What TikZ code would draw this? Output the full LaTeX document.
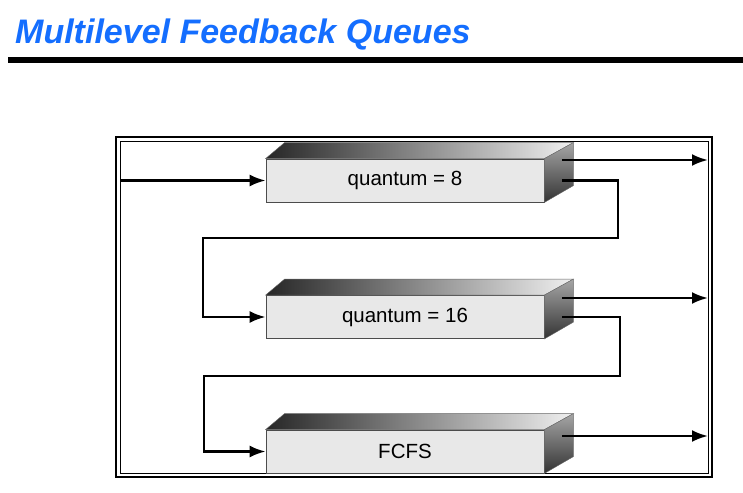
\documentclass[tikz,border=0pt]{standalone}
\usepackage{fontspec}
\setmainfont{Liberation Sans}
\usetikzlibrary{positioning,arrows.meta}
\definecolor{titleblue}{RGB}{20,110,255}

\begin{document}
\begin{tikzpicture}[x=1pt, y=-1pt,
  queue/.style={draw=black!70, line width=0.8pt, fill=black!9, minimum width=278pt,
    minimum height=43pt, inner sep=0pt, font=\fontsize{20.5}{24}\selectfont},
  flow/.style={line width=2.5pt, -{Latex[length=16pt,width=12pt]}}]
  \useasboundingbox (0,0) rectangle (743,492);
  % heading and rule
  \node[anchor=base west, inner sep=0pt, text=titleblue,
    font=\fontsize{34}{38}\selectfont\bfseries\itshape] (title) at (15,44) {Multilevel Feedback Queues};
  \fill (8,57) rectangle (743,63);
  % double frame
  \draw[line width=2pt] (116,137) rectangle (712,477);
  \draw[line width=1pt] (120,141) rectangle (708,473);
  % the three queues
  \node[queue] (q8) at (405,180.5) {quantum = 8};
  \node[queue] (q16) at (405,317) {quantum = 16};
  \node[queue] (fcfs) at (405,451.5) {FCFS};
  \foreach \q in {q8,q16,fcfs} {
    \shade[left color=black!85, right color=black!6, draw=black!60]
      (\q.north west) -- ++(19,-16) -- ([shift={(29,-16)}]\q.north east) -- (\q.north east) -- cycle;
    \shade[top color=black!35, bottom color=black!80, draw=black!60]
      (\q.north east) -- ++(29,-16) -- ++(0,43) -- (\q.south east) -- cycle;
  }
  % free ends
  \coordinate (entry) at (120,180.5);
  \coordinate (out8) at (708,160);
  \coordinate (out16) at (708,298);
  \coordinate (outfcfs) at (708,436);
  \coordinate (turn8) at (618,238);
  \coordinate (back8) at (203,238);
  \coordinate (turn16) at (620,376);
  \coordinate (back16) at (204,376);
  % connectors
  \draw[flow] (entry) -- (q8.west);
  \draw[flow] ([xshift=18pt,yshift=20.5pt]q8.east) -- (out8);
  \draw[flow] ([xshift=18pt]q8.east) -| (turn8) -- (back8) |- (q16.west);
  \draw[flow] ([xshift=18pt,yshift=19pt]q16.east) -- (out16);
  \draw[flow] ([xshift=18pt]q16.east) -| (turn16) -- (back16) |- (fcfs.west);
  \draw[flow] ([xshift=18pt,yshift=15.5pt]fcfs.east) -- (outfcfs);
\end{tikzpicture}
\end{document}
